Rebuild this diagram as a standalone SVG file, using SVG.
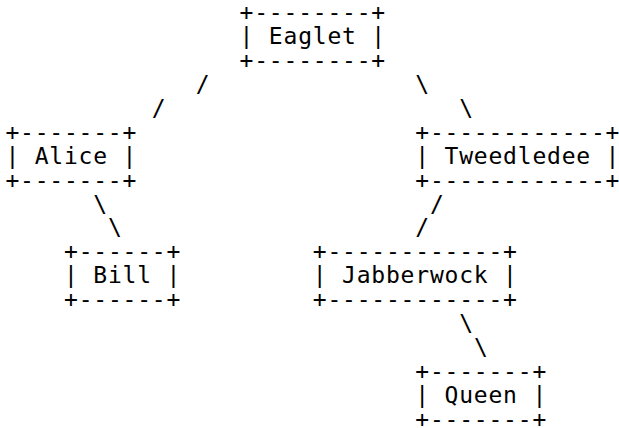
<svg xmlns="http://www.w3.org/2000/svg" width="619" height="428" viewBox="0 0 619 428">
  <style>
    text { font-family: "DejaVu Sans Mono", "Liberation Mono", monospace; font-size: 23px; letter-spacing: 0.79px; fill: #000; white-space: pre; }
  </style>
  <rect width="619" height="428" fill="#fff"/>
  <!-- character grid: column c starts at 5.4 + 14.64*c, row r baseline at 20.3 + 23.9*r -->
  <g id="connectors">
    <text x="195.7" y="92">/</text>
    <text x="415.3" y="92">\</text>
    <text x="151.8" y="115.9">/</text>
    <text x="459.2" y="115.9">\</text>
    <text x="93.2" y="211.5">\</text>
    <text x="430" y="211.5">/</text>
    <text x="107.9" y="235.4">\</text>
    <text x="415.3" y="235.4">/</text>
    <text x="459.2" y="331">\</text>
    <text x="473.9" y="354.9">\</text>
  </g>
  <g id="node-eaglet">
    <text x="239.6" y="20.3">+--------+</text>
    <text x="239.6" y="44.2">| Eaglet |</text>
    <text x="239.6" y="68.1">+--------+</text>
  </g>
  <g id="node-alice">
    <text x="5.4" y="139.8">+-------+</text>
    <text x="5.4" y="163.7">| Alice |</text>
    <text x="5.4" y="187.6">+-------+</text>
  </g>
  <g id="node-tweedledee">
    <text x="415.3" y="139.8">+------------+</text>
    <text x="415.3" y="163.7">| Tweedledee |</text>
    <text x="415.3" y="187.6">+------------+</text>
  </g>
  <g id="node-bill">
    <text x="64" y="259.3">+------+</text>
    <text x="64" y="283.2">| Bill |</text>
    <text x="64" y="307.1">+------+</text>
  </g>
  <g id="node-jabberwock">
    <text x="312.8" y="259.3">+------------+</text>
    <text x="312.8" y="283.2">| Jabberwock |</text>
    <text x="312.8" y="307.1">+------------+</text>
  </g>
  <g id="node-queen">
    <text x="415.3" y="378.8">+-------+</text>
    <text x="415.3" y="402.7">| Queen |</text>
    <text x="415.3" y="426.6">+-------+</text>
  </g>
</svg>
